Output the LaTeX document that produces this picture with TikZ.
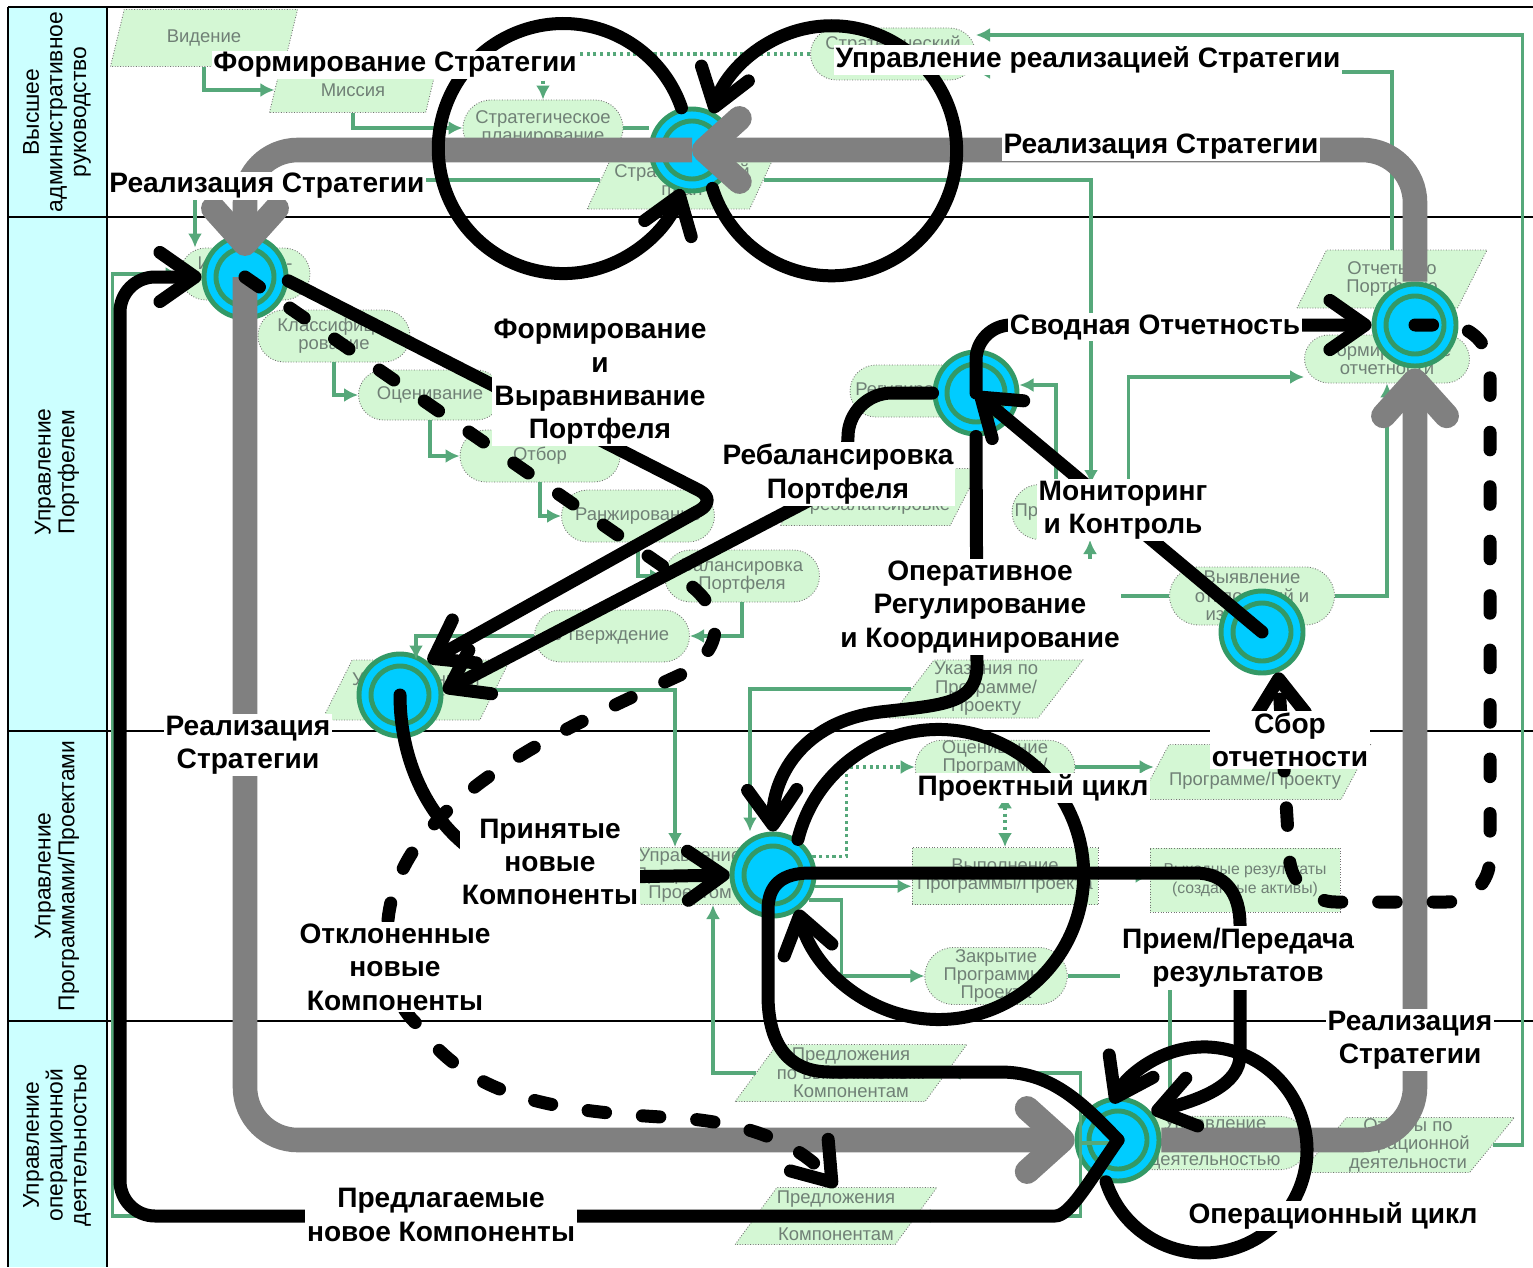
\documentclass[tikz,border=0pt]{standalone}
\usepackage{fontspec}
\setmainfont{Liberation Sans}
\usetikzlibrary{arrows.meta,shapes.geometric,shapes.misc,positioning}

\definecolor{lanecyan}{RGB}{204,255,255}
\definecolor{paleg}{RGB}{212,247,212}
\definecolor{txtg}{RGB}{112,128,118}
\definecolor{flowg}{RGB}{86,168,122}
\definecolor{actblue}{RGB}{0,204,255}
\definecolor{ringg}{RGB}{51,153,102}
\definecolor{bandgray}{RGB}{128,128,128}

\newcommand\lanefont{\fontsize{13}{13.5}\selectfont}
\newcommand\boxfont{\fontsize{10.5}{10.5}\selectfont}
\newcommand\lblfont{\fontsize{16}{19}\selectfont\bfseries}

\tikzset{
  sz/.style 2 args={minimum width=#1*0.02cm, minimum height=#2*0.02cm},
  doc/.style={trapezium, trapezium left angle=50, trapezium right angle=130,
    trapezium stretches body, draw=black!55, densely dotted, line width=0.5pt,
    fill=paleg, text=txtg, font=\boxfont, align=center, inner sep=0pt},
  task/.style={rounded rectangle, draw=black!55, densely dotted, line width=0.5pt,
    fill=paleg, text=txtg, font=\boxfont, align=center, inner sep=0pt},
  work/.style={rectangle, draw=black!55, densely dotted, line width=0.5pt,
    fill=paleg, text=txtg, font=\boxfont, align=center, inner sep=0pt},
  flow/.style={draw=flowg, line width=1.8pt, -{Latex[length=8pt,width=8pt]}},
  act/.style={circle, minimum size=1.64cm, inner sep=0pt, fill=actblue,
    draw=ringg, line width=2.8pt,
    path picture={\draw[ringg, line width=2.8pt]
      (path picture bounding box.center) circle[radius=0.58cm];}},
  band/.style={draw=bandgray, line width=14pt, rounded corners=30pt,
    -{Straight Barb[length=20pt,width=36pt,round]}},
  proc/.style={line width=7.4pt, line cap=round, line join=round},
  dashproc/.style={proc, dash pattern=on 10pt off 21pt},
  lbl/.style={fill=white, inner sep=1pt, font=\lblfont, align=center},
  lane/.style={rotate=90, align=center, font=\lanefont}
}

\begin{document}
\begin{tikzpicture}[x=0.02cm, y=-0.02cm,
  >={Straight Barb[length=20pt,width=28pt,round]}]
\useasboundingbox (0,0) rectangle (1533,1267);
\fill[white] (0,0) rectangle (1533,1267);

% lanes
\fill[lanecyan] (8,7) rectangle (107,1267);
\draw[line width=1.2pt] (8,7) -- (1533,7);
\draw[line width=1.2pt] (8,7) -- (8,1267);
\draw[line width=1.2pt] (107,7) -- (107,1267);
\foreach \yy in {217,731,1021}
  \draw[line width=0.9pt] (8,\yy) -- (1533,\yy);
\node[lane] (lane1) at (57,112) {Высшее\\административное\\руководство};
\node[lane] (lane2) at (57,472) {Управление\\Портфелем};
\node[lane] (lane3) at (57,876) {Управление\\Программами/Проектами};
\node[lane] (lane4) at (57,1145) {Управление\\операционной\\деятельностью};

% process boxes
\node[doc, sz={187}{57}] (vision) at (204,38) {Видение};
\node[doc, sz={167}{45}] (mission) at (353,90) {Миссия};
\node[task, sz={160}{56}] (stratplan) at (543,128) {Стратегическое\\планирование};
\node[doc, sz={175}{58}] (strategies) at (682,180) {Стратегический\\план};
\node[task, sz={165}{52}] (stratctrl) at (893,54) {Стратегический\\контроль};
\node[task, sz={130}{52}] (ident) at (245,274) {Идентифи-\\кация};
\node[task, sz={152}{52}] (classif) at (334,336) {Классифици-\\рование};
\node[task, sz={143}{50}] (evaluate) at (430,395) {Оценивание};
\node[task, sz={160}{52}] (select) at (540,456) {Отбор};
\node[task, sz={153}{52}] (rank) at (638,516) {Ранжирование};
\node[task, sz={155}{52}] (balance) at (742,576) {Балансировка\\Портфеля};
\node[task, sz={155}{52}] (approve) at (612,636) {Утверждение};
\node[doc, sz={150}{60}] (approved) at (416,690) {Утвержденный\\проект};
\node[task, sz={140}{52}] (regulate) at (920,391) {Регулирование};
\node[doc, sz={180}{57}] (rebaltask) at (880,497) {Указания по\\ребалансировке};
\node[task, sz={88}{55}] (review) at (1056,512) {Проверка};
\node[doc, sz={190}{58}] (pfreport) at (1392,279) {Отчеты по\\Портфелю};
\node[task, sz={165}{48}] (reporting) at (1387,359) {Формирование\\отчетности};
\node[task, sz={165}{58}] (deviation) at (1252,596) {Выявление\\отклонений и\\изменений};
\node[doc, sz={187}{58}] (progtask) at (986,689) {Указания по\\Программе/\\Проекту};
\node[task, sz={107}{57}] (progmgmt) at (690,876) {Управление\\Программой/\\Проектом};
\node[task, sz={140}{50}] (progeval) at (995,767) {Оценивание\\Программы/\\Проекта};
\node[doc, sz={185}{55}] (progreport) at (1255,772) {Отчеты по\\Программе/Проекту};
\node[work, sz={186}{57}] (execute) at (1005,876) {Выполнение\\Программы/Проекта};
\node[work, sz={190}{64}, font=\fontsize{9}{11}\selectfont] (outputs) at (1245,880)
  {Выходные результаты\\(созданные активы)};
\node[task, sz={137}{57}] (closing) at (996,976) {Закрытие\\Программы/\\Проекта};
\node[doc, sz={188}{57}] (propcur) at (851,1073) {Предложения\\по выполняемым\\Компонентам};
\node[doc, sz={187}{57}] (propnew) at (836,1216) {Предложения\\по новым\\Компонентам};
\node[task, sz={130}{52}] (opsmgmt) at (1215,1143) {Управление\\операционной\\деятельностью};
\node[doc, sz={185}{55}] (opsreport) at (1408,1145) {Отчеты по\\операционной\\деятельности};

% activity circles
\node[act] (c1) at (692,150) {};
\node[act] (c2) at (245,277) {};
\node[act] (c3) at (976,393) {};
\node[act] (c4) at (1415,325) {};
\node[act] (c5) at (400,695) {};
\node[act] (c6) at (1262,632) {};
\node[act] (c7) at (773,875) {};
\node[act] (c8) at (1118,1140) {};

% green flows
\draw[flow] (vision.south) |- (mission.west);
\draw[flow] (mission.south) |- (stratplan.west);
\draw[flow, dotted] (stratctrl.west) -| (stratplan.north);
\draw[draw=flowg, line width=1.8pt] (stratplan.east) -- (stratplan.east -| c1.west);
\draw[flow] (strategies.west) -| ([xshift=-1cm]ident.north);
\draw[flow] (strategies.east) -| ([xshift=0.7cm]review.north);
\draw[flow] (opsreport.east) -- ++(0.6cm,0) |- ([yshift=0.38cm]stratctrl.east);
\draw[flow] (pfreport.north) |- ([yshift=-0.36cm]stratctrl.east);
\draw[flow] (classif.south) |- (evaluate.west);
\draw[flow] (evaluate.south) |- (select.west);
\draw[flow] (select.south) |- (rank.west);
\draw[flow] (rank.south) |- (balance.west);
\draw[flow] (balance.south) |- (approve.east);
\draw[flow] (approve.west) -| (approved.north);
\draw[flow] (approved.east) -| ([xshift=-0.3cm]progmgmt.north);
\draw[flow] (progtask.west) -| ([xshift=-0.46cm]c7.north);
\draw[flow] (review.north) |- ([yshift=0.16cm]c3.east);
\draw[flow] (review.east) -- ++(0.56cm,0) |- ([yshift=-0.36cm]reporting.west);
\draw[flow] (deviation.east) -| (reporting.south);
\draw[flow] (deviation.west) -| ([xshift=0.68cm]review.south);
\draw[flow, dotted] (c7.25) -- ++(0.68cm,0) |- (progeval.west);
\draw[flow] (progeval.east) -- (progeval.east -| progreport.west);
\draw[flow, dotted, {Latex[length=8pt,width=8pt]}-{Latex[length=8pt,width=8pt]}]
  (execute.north |- progeval.south) -- (execute.north);
\draw[flow] (c7.-15) -- (c7.-15 -| execute.west);
\draw[flow] (execute.east) -- (execute.east -| outputs.west);
\draw[flow] (c7.-35) -- ++(0.66cm,0) |- (closing.west);
\draw[flow] (propcur.west) -| ([xshift=0.46cm]progmgmt.south);
\draw[flow] (closing.east) -| ([xshift=-0.9cm]opsmgmt.north);
\draw[flow] (opsmgmt.west) -- ++(-0.84cm,0) |- (propcur.east);
\draw[flow] (opsmgmt.west) -- ++(-0.84cm,0) |- (propnew.east);
\draw[flow] (propnew.west) -| ([xshift=-1.34cm]ident.west) -- (ident.west);

% strategy band
\draw[band] (c4.north) |- (c1.center);
\draw[band, shorten >=12pt] (c1.center) -| (c2.center);
\draw[band] (c2.center) |- (c8.west);
\draw[band] (c8.east) -| (c4.south);

% main flows
\draw[proc,->] (c1.104) arc[start angle=-19, end angle=-341, radius=125];
\draw[proc,->] (c1.-62) arc[start angle=162.5, end angle=-162.5, radius=125];
\draw[proc,->, rounded corners=12pt] (c2.-5) -- (718,500) -- (c5.50);
\draw[proc,->, rounded corners=25pt] (c3.west) -- (848,393) -- (848,480) -- (c5.5);
\draw[proc,->] (c5.center) .. controls (400,790) and (460,878) .. (560,878) -- (c7.west);
\draw[dashproc,->] (c2.center) -- (690,585)
  .. controls (725,612) and (725,650) .. (680,675)
  .. controls (560,730) and (400,800) .. (388,920)
  .. controls (385,980) and (400,1010) .. (418,1025)
  .. controls (470,1100) and (560,1112) .. (680,1118)
  .. controls (760,1124) and (805,1150) .. (propnew.north);
\draw[proc,->] (c3.south) -- (977,665)
  .. controls (977,705) and (940,705) .. (880,712)
  .. controls (800,722) and (772,780) .. (c7.north);
\draw[proc,->] (c6.center) -- (c3.center);
\draw[proc,->, rounded corners=20pt] (c3.center) |- (c4.west);
\draw[dashproc,->, rounded corners=25pt] (c4.center) -- (1490,325) -- (1490,902)
  -- (1292,902) -- (c6.-68);
\draw[proc,->] (c7.55) arc[start angle=-166, end angle=166, radius=145];
\draw[proc,->] (c8.center) .. controls (1080,1100) and (1050,1072) .. (1000,1072)
  -- (830,1072) .. controls (785,1072) and (768,1040) .. (768,995)
  -- (768,910) .. controls (768,885) and (782,873) .. (810,873)
  -- (1195,873) .. controls (1225,873) and (1240,893) .. (1240,925)
  -- (1240,1055) .. controls (1240,1085) and (1200,1100) .. (c8.40);
\draw[proc,->] (c8.-106) arc[start angle=162, end angle=-153, radius=103];
\draw[proc,->, rounded corners=20pt] (c8.center)
  .. controls (1090,1180) and (1070,1216) .. (1020,1216)
  -- (120,1216) -- (120,277) -- (c2.west);

% labels
\node[lbl] (lstrat) at (395,65) {Формирование Стратегии};
\node[lbl] (lcontrol) at (1088,60) {Управление реализацией Стратегии};
\node[lbl] (lreal1) at (1161,147) {Реализация Стратегии};
\node[lbl] (lreal2) at (267,186) {Реализация Стратегии};
\node[lbl] (lform) at (600,382) {Формирование\\и\\Выравнивание\\Портфеля};
\node[lbl] (lrebal) at (838,474) {Ребалансировка\\Портфеля};
\node[lbl] (lsum) at (1155,327) {Сводная Отчетность};
\node[lbl] (lmon) at (1123,510) {Мониторинг\\и Контроль};
\node[lbl] (loper) at (980,607) {Оперативное\\Регулирование\\и Координирование};
\node[lbl] (lreal3) at (248,745) {Реализация\\Стратегии};
\node[lbl] (laccept) at (550,862) {Принятые\\новые\\Компоненты};
\node[lbl] (lreject) at (395,967) {Отклоненные\\новые\\Компоненты};
\node[lbl] (lproj) at (1033,788) {Проектный цикл};
\node[lbl] (lcollect) at (1290,740) {Сбор\\отчетности};
\node[lbl] (ltransfer) at (1238,958) {Прием/Передача\\результатов};
\node[lbl] (lreal4) at (1410,1040) {Реализация\\Стратегии};
\node[lbl] (lops) at (1333,1216) {Операционный цикл};
\node[lbl] (lpropose) at (441,1215) {Предлагаемые\\новое Компоненты};
\end{tikzpicture}
\end{document}
